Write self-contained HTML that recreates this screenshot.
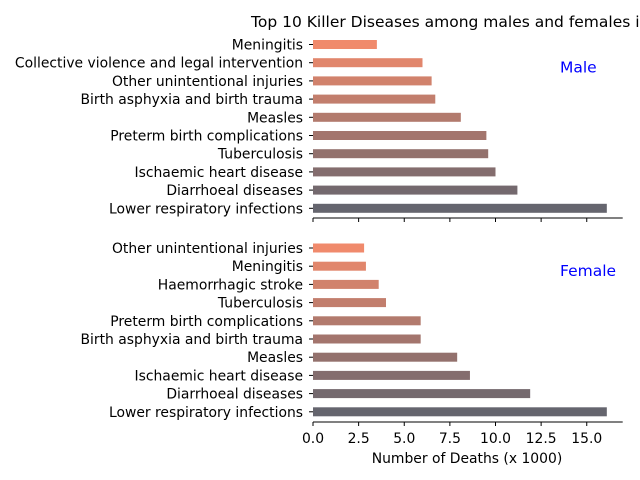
<!DOCTYPE html>
<html><head><meta charset="utf-8"><style>body{margin:0;background:#fff}svg{display:block;font-family:"DejaVu Sans","Liberation Sans",sans-serif}</style></head>
<body>
<svg id="chart" width="640" height="480"></svg>
<script>
const maleCategories=["Meningitis","Collective violence and legal intervention","Other unintentional injuries","Birth asphyxia and birth trauma","Measles","Preterm birth complications","Tuberculosis","Ischaemic heart disease","Diarrhoeal diseases","Lower respiratory infections"];
const maleValues=[3.5,6.0,6.5,6.7,8.1,9.5,9.6,10.0,11.2,16.1];
const femaleCategories=["Other unintentional injuries","Meningitis","Haemorrhagic stroke","Tuberculosis","Preterm birth complications","Birth asphyxia and birth trauma","Measles","Ischaemic heart disease","Diarrhoeal diseases","Lower respiratory infections"];
const femaleValues=[2.8,2.9,3.6,4.0,5.9,5.9,7.9,8.6,11.9,16.1];
const xTicks=[0,2.5,5,7.5,10,12.5,15];
const xTickLabels=["0.0","2.5","5.0","7.5","10.0","12.5","15.0"];
const NS="http://www.w3.org/2000/svg";
const svg=document.getElementById('chart');
const x0=313,pxPer=18.25,xEnd=622.7;
const xs=v=>x0+v*pxPer;
const FS=13.9;
function mk(tag,attrs,text){const e=document.createElementNS(NS,tag);for(const k in attrs)e.setAttribute(k,attrs[k]);if(text!==undefined)e.textContent=text;svg.appendChild(e);return e;}
const c0=[240,138,108],c1=[101,101,110];
function col(i){const t=i/9;return 'rgb('+c0.map((a,j)=>Math.round(a+(c1[j]-a)*t)).join(',')+')';}
function panel(cats,vals,yTop,spineY,label,pname){
  const step=18.2;
  cats.forEach((c,i)=>{
    const yc=yTop+i*step;
    const r=mk('rect',{x:x0,y:yc-4.5,width:xs(vals[i])-x0,height:9,fill:col(i)});
    
    
    const tk=mk('line',{x1:x0-4,x2:x0,y1:yc,y2:yc,stroke:'#000','stroke-width':1});
    
    
    const t=mk('text',{x:x0-10,y:yc+5,'text-anchor':'end','font-size':FS,fill:'#000'},c);
    
    
  });
  const sp=mk('line',{x1:x0,x2:xEnd,y1:spineY,y2:spineY,stroke:'#000','stroke-width':1});
  
  
  xTicks.forEach(v=>{
    const l=mk('line',{x1:xs(v),x2:xs(v),y1:spineY,y2:spineY+4,stroke:'#000','stroke-width':1});
    
    
  });
  const lb=mk('text',{x:560,y:yTop+28,'text-anchor':'start','font-size':'15.5',fill:'#0000ff'},label);
  
  
}
panel(maleCategories,maleValues,44.5,218,'Male','male');
panel(femaleCategories,femaleValues,248,422,'Female','female');
xTicks.forEach((v,i)=>{
  const t=mk('text',{x:xs(v),y:443,'text-anchor':'middle','font-size':FS,fill:'#000'},xTickLabels[i]);
  
  
});
const xt=mk('text',{x:467,y:463,'text-anchor':'middle','font-size':FS,fill:'#000'},'Number of Deaths (x 1000)');


const tt=mk('text',{x:251,y:27,'font-size':'15.5',fill:'#000'},'Top 10 Killer Diseases among males and females in');


</script>
</body></html>
